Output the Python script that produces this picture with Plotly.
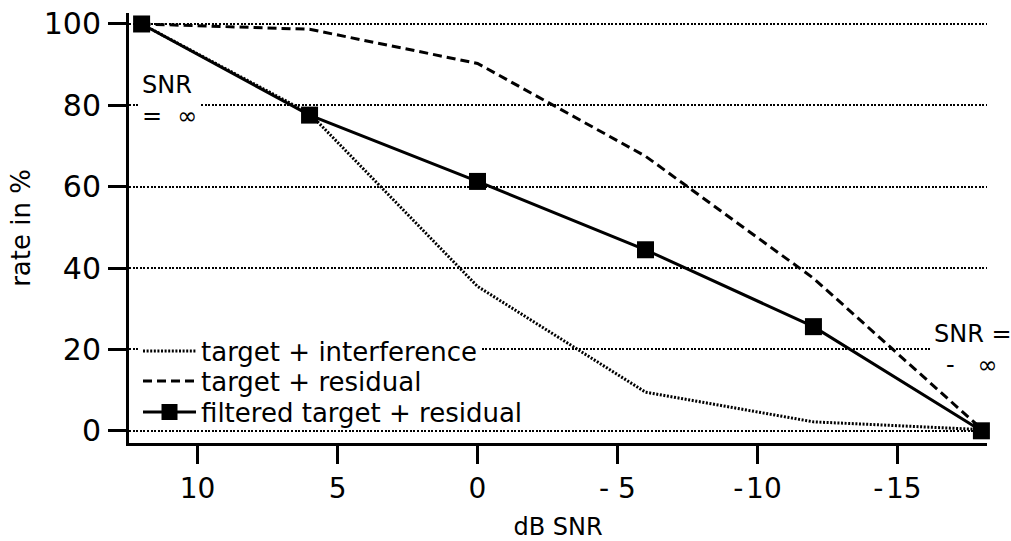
import plotly.graph_objects as go

# Recognition rate versus signal-to-noise ratio for three conditions
snr_db = [12, 6, 0, -6, -12, -18]
rate_interference = [100, 78, 35.5, 9.5, 2.2, 0.3]
rate_residual = [100, 98.7, 90.3, 67.5, 37.5, 0.5]
rate_filtered = [100, 77.6, 61.3, 44.5, 25.6, 0.0]

tick_vals = [10, 5, 0, -5, -10, -15]
tick_text = ["10", "5", "0", "- 5", "-\u200a10", "-\u200a15"]
y_ticks = [0, 20, 40, 60, 80, 100]

series_names = [
    "target + interference",
    "target + residual",
    "filtered target + residual",
]

FONT = "DejaVu Sans, Liberation Sans, sans-serif"
INK = "#000000"

fig = go.Figure()

fig.add_trace(go.Scatter(
    x=snr_db, y=rate_interference, name=series_names[0], mode="lines",
    line=dict(color=INK, width=3, dash="2px,1.6px"),
    legend="legend", cliponaxis=False,
))
fig.add_trace(go.Scatter(
    x=snr_db, y=rate_residual, name=series_names[1], mode="lines",
    line=dict(color=INK, width=3, dash="9px,5px"),
    legend="legend2", cliponaxis=False,
))
fig.add_trace(go.Scatter(
    x=snr_db, y=rate_filtered, name=series_names[2], mode="lines+markers",
    line=dict(color=INK, width=3),
    marker=dict(symbol="square", size=17, color=INK, line=dict(width=0)),
    legend="legend3", cliponaxis=False,
))

legend_common = dict(
    xref="paper", yref="paper", x=0.0105, xanchor="left", yanchor="middle",
    borderwidth=0, itemwidth=53,
    font=dict(family=FONT, size=26, color=INK),
)

fig.update_layout(
    template="none",
    width=1011, height=541,
    margin=dict(l=129, r=24, t=13, b=98, autoexpand=False),
    paper_bgcolor="white", plot_bgcolor="white",
    font=dict(family=FONT, color=INK),
    showlegend=True,
    # one legend box per entry, so the rows can sit closer than the default spacing
    legend=dict(y=0.214, bgcolor="white", entrywidth=330, **legend_common),
    legend2=dict(y=0.144, bgcolor="rgba(0,0,0,0)", **legend_common),
    legend3=dict(y=0.072, bgcolor="rgba(0,0,0,0)", **legend_common),
    xaxis=dict(
        range=[12.45, -18.2], automargin=False,
        tickmode="array", tickvals=tick_vals, ticktext=tick_text,
        ticks="outside", ticklen=18, tickwidth=2.5, tickcolor=INK,
        tickfont=dict(family=FONT, size=28, color=INK),
        showline=True, linewidth=3, linecolor=INK,
        showgrid=False, zeroline=False,
        title=dict(text="dB SNR", font=dict(family=FONT, size=24, color=INK), standoff=20),
    ),
    yaxis=dict(
        range=[-3.0, 102.7], automargin=False,
        tickmode="array", tickvals=y_ticks,
        ticks="outside", ticklen=18, tickwidth=2.5, tickcolor=INK,
        tickfont=dict(family=FONT, size=30, color=INK),
        ticklabelstandoff=1,
        showline=True, linewidth=3, linecolor=INK,
        showgrid=True, gridcolor=INK, gridwidth=2.4, griddash="2px,1.6px",
        zeroline=False,
        title=dict(text="rate in %", font=dict(family=FONT, size=26, color=INK), standoff=6),
    ),
)

# Endpoint labels for the infinite-SNR conditions
label_font = dict(family=FONT, size=24, color=INK)
fig.add_annotation(x=12.1, y=81.3, text="SNR<br>=  \u221e", showarrow=False,
                   xanchor="left", yanchor="middle", align="left", font=label_font,
                   bgcolor="white", borderpad=2)
fig.add_annotation(x=-16.2, y=20.1, text="SNR =<br>\u2002-   \u221e", showarrow=False,
                   xanchor="left", yanchor="middle", align="left", font=label_font,
                   bgcolor="white", borderpad=2)

fig.write_html("out.html", config={"displayModeBar": False})
